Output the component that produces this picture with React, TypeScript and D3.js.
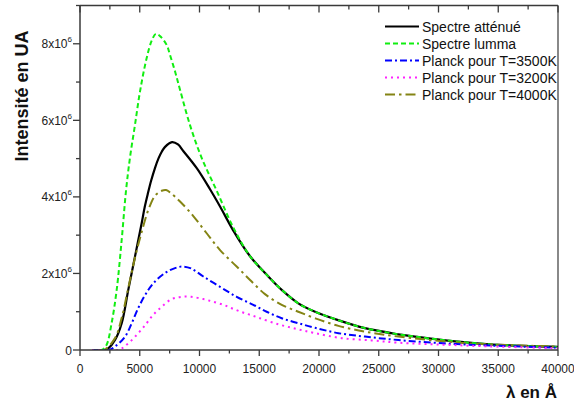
import React from "react";
import * as d3 from "d3";

// Wavelengths in Å, intensities in units of 1e6 (UA)
const lambdaAttenue = [1000, 2100, 2370, 2930, 3490, 4040, 4600, 5160, 5420, 5690, 5950, 6280, 6560, 6840, 7100, 7700, 8200, 8640, 9770, 10880, 11720, 12830, 14230, 15760, 16880, 18270, 19670, 21600, 23850, 26640, 28030, 30380, 33200, 35980, 40000];
const spectreAttenue = [0, 0, 0.04, 0.26, 0.7, 1.57, 2.44, 3.31, 3.74, 4.1, 4.42, 4.76, 5.0, 5.18, 5.3, 5.43, 5.37, 5.2, 4.75, 4.2, 3.75, 3.12, 2.45, 1.92, 1.57, 1.22, 1.0, 0.78, 0.57, 0.41, 0.35, 0.26, 0.175, 0.12, 0.08];

const lambdaLumma = [1000, 1800, 2200, 2650, 3070, 3490, 3850, 4180, 4600, 5020, 5580, 6000, 6350, 6700, 7250, 7530, 7950, 8370, 9200, 10180, 11440, 12830, 14230, 15760, 16880, 18270, 19670, 21600, 23850, 26640, 28030, 30380, 33200, 35980, 40000];
const spectreLumma = [0, 0, 0.12, 0.71, 1.57, 2.88, 4.16, 5.02, 5.88, 6.75, 7.63, 8.08, 8.26, 8.2, 7.97, 7.71, 7.28, 6.8, 5.88, 5.02, 4.16, 3.2, 2.45, 1.92, 1.57, 1.22, 1.0, 0.78, 0.57, 0.41, 0.35, 0.26, 0.175, 0.12, 0.08];

const lambda3500 = [1000, 2400, 2930, 3770, 4330, 4880, 5440, 6130, 7110, 7950, 8600, 9300, 10320, 11720, 13110, 14500, 15620, 16880, 18270, 19670, 21620, 23850, 26640, 30380, 33200, 40000];
const planck3500 = [0, 0, 0.09, 0.35, 0.7, 1.1, 1.43, 1.74, 2.01, 2.14, 2.18, 2.13, 1.92, 1.65, 1.39, 1.18, 1.0, 0.83, 0.7, 0.58, 0.44, 0.35, 0.26, 0.175, 0.13, 0.06];

const lambda3200 = [1000, 3200, 4040, 4880, 5580, 6130, 6840, 7670, 8500, 9300, 10320, 11150, 11990, 12700, 13530, 14230, 15060, 16600, 18130, 19670, 21900, 24410, 26640, 30380, 33200, 40000];
const planck3200 = [0, 0, 0.175, 0.44, 0.7, 0.92, 1.13, 1.33, 1.39, 1.39, 1.33, 1.26, 1.18, 1.09, 0.99, 0.92, 0.83, 0.67, 0.55, 0.44, 0.31, 0.25, 0.19, 0.14, 0.105, 0.045];

const lambda4000 = [1000, 2000, 2930, 3490, 4040, 4600, 5160, 5720, 6280, 6840, 7200, 7600, 8370, 9480, 10600, 11720, 13110, 14230, 15480, 16880, 18270, 19670, 21620, 23850, 26640, 30380, 33200, 40000];
const planck4000 = [0, 0, 0.31, 0.84, 1.62, 2.41, 3.08, 3.66, 4.03, 4.16, 4.18, 4.1, 3.88, 3.5, 3.05, 2.61, 2.18, 1.83, 1.46, 1.18, 1.0, 0.83, 0.63, 0.48, 0.35, 0.23, 0.16, 0.09];

const xTicks = [0, 5000, 10000, 15000, 20000, 25000, 30000, 35000, 40000];
const yTickMantissa = [0, 2, 4, 6, 8];
const legendLabels = ["Spectre atténué", "Spectre lumma", "Planck pour T=3500K", "Planck pour T=3200K", "Planck pour T=4000K"];

const W = 574;
const H = 402;
const left = 80;
const right = 558;
const top = 5.5;
const bottom = 350;
const font = "'Liberation Sans', Arial, Helvetica, sans-serif";
const axisColor = "#3a3a3a";

const x = d3.scaleLinear().domain([0, 40000]).range([left, right]);
const y = d3.scaleLinear().domain([0, 9e6]).range([bottom, top]);

const series = [
  { name: legendLabels[0], lam: lambdaAttenue, val: spectreAttenue, color: "#000000", dash: "none", width: 2.2 },
  { name: legendLabels[1], lam: lambdaLumma, val: spectreLumma, color: "#11ee11", dash: "5,3", width: 2 },
  { name: legendLabels[2], lam: lambda3500, val: planck3500, color: "#0000ff", dash: "7,3,2,3", width: 2 },
  { name: legendLabels[3], lam: lambda3200, val: planck3200, color: "#ff22ff", dash: "2,4", width: 2 },
  { name: legendLabels[4], lam: lambda4000, val: planck4000, color: "#848414", dash: "10,4,2.5,4", width: 2 },
];

const line = d3
  .line<[number, number]>()
  .x((d) => x(d[0]))
  .y((d) => y(d[1] * 1e6))
  .curve(d3.curveCatmullRom.alpha(0.5));

// Draw order: black first so the green dashes sit on top in the common tail
const drawOrder = [0, 1, 4, 2, 3];

export default function App() {
  const xMinor = d3.range(0, 40001, 2500);
  const yMinor = d3.range(0, 9e6 + 1, 1e6);
  return (
    <svg
      width={W}
      height={H}
      style={{ position: "absolute", left: 0, top: 0, background: "#fff" }}
      fontFamily={font}
    >
      <defs>
        <clipPath id="plot-area">
          <rect x={left} y={top} width={right - left} height={bottom - top} />
        </clipPath>
      </defs>
      <rect x={0} y={0} width={W} height={H} fill="#fff" />

      {/* curves */}
      <g clipPath="url(#plot-area)">
        {drawOrder.map((i) => {
          const s = series[i];
          const pts = s.lam.map((l, k) => [l, s.val[k]] as [number, number]);
          return (
            <path
              key={s.name}
              d={line(pts) || ""}
              fill="none"
              stroke={s.color}
              strokeWidth={s.width}
              strokeDasharray={s.dash === "none" ? undefined : s.dash}
              strokeLinecap="butt"
              strokeLinejoin="round"
            />
          );
        })}
      </g>

      {/* frame */}
      <line x1={left} x2={right} y1={bottom} y2={bottom} stroke={axisColor} strokeWidth={1.5} />
      <line x1={left} x2={right} y1={top} y2={top} stroke={axisColor} strokeWidth={1.5} />
      <line x1={left} x2={left} y1={top} y2={bottom} stroke={axisColor} strokeWidth={1.5} />
      <line x1={right} x2={right} y1={top} y2={bottom} stroke={axisColor} strokeWidth={1.2} />

      {/* x ticks, bottom (outward) and top (inward) */}
      {xMinor.map((v) => {
        const major = v % 5000 === 0;
        return (
          <g key={"xt" + v}>
            <line x1={x(v)} x2={x(v)} y1={bottom} y2={bottom + (major ? 6 : 3.5)} stroke={axisColor} strokeWidth={1.3} />
            <line x1={x(v)} x2={x(v)} y1={top} y2={top + (major ? 7 : 4)} stroke={axisColor} strokeWidth={1.3} />
          </g>
        );
      })}
      {xTicks.map((v) => (
        <text key={"xl" + v} x={x(v)} y={373} fontSize={12} textAnchor="middle" fill="#222">
          {v}
        </text>
      ))}

      {/* y ticks, left (outward) */}
      {yMinor.map((v) => {
        const major = v % 2e6 === 0;
        return (
          <line key={"yt" + v} x1={left - (major ? 7 : 4)} x2={left} y1={y(v)} y2={y(v)} stroke={axisColor} strokeWidth={1.3} />
        );
      })}
      {yTickMantissa.map((m) => (
        <text key={"yl" + m} x={72} y={y(m * 1e6) + 4.5} fontSize={12} textAnchor="end" fill="#222">
          {m === 0 ? (
            "0"
          ) : (
            <>
              {m + "x10"}
              <tspan fontSize={8} dy={-6}>
                6
              </tspan>
            </>
          )}
        </text>
      ))}

      {/* axis titles */}
      <text
        transform={`translate(28,96) rotate(-90)`}
        fontSize={18}
        fontWeight="bold"
        textAnchor="middle"
        fill="#111"
      >
        Intensité en UA
      </text>
      <text x={557} y={398} fontSize={17} fontWeight="bold" textAnchor="end" fill="#111">
        λ en Å
      </text>

      {/* legend */}
      {series.map((s, i) => {
        const by = 31.5 + i * 17;
        return (
          <g key={"lg" + i}>
            <line
              x1={385}
              x2={419}
              y1={by - 5}
              y2={by - 5}
              stroke={s.color}
              strokeWidth={s.width}
              strokeDasharray={s.dash === "none" ? undefined : s.dash}
            />
            <text x={422} y={by} fontSize={14} fill="#111">
              {s.name}
            </text>
          </g>
        );
      })}
    </svg>
  );
}
